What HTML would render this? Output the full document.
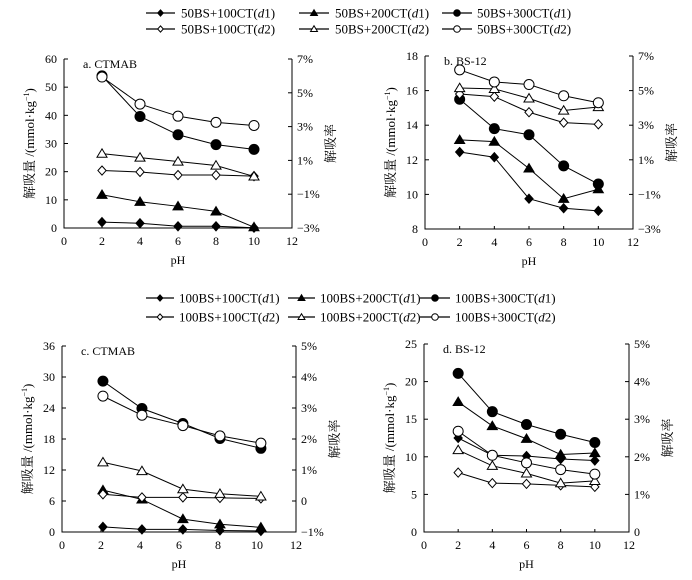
<!DOCTYPE html>
<html><head><meta charset="utf-8">
<style>
body{margin:0;background:#fff;}
svg text{font-family:"Liberation Serif","Noto Serif CJK SC","Noto Sans CJK SC",serif;fill:#000;}
</style></head>
<body>
<svg id="chart" width="692" height="575" viewBox="0 0 692 575" xmlns="http://www.w3.org/2000/svg"></svg>
<script>
// ---- data ----
const seriesKinds = ["fdiamond","ftri","fcircle","odiamond","otri","ocircle"];
const legendTop = ["50BS+100CT(d1)","50BS+200CT(d1)","50BS+300CT(d1)","50BS+100CT(d2)","50BS+200CT(d2)","50BS+300CT(d2)"];
const legendBottom = ["100BS+100CT(d1)","100BS+200CT(d1)","100BS+300CT(d1)","100BS+100CT(d2)","100BS+200CT(d2)","100BS+300CT(d2)"];

const phA = [2,4,6,8,10];
const aFDiamond = [2.1,1.7,0.6,0.6,0.1];
const aFTri = [11.8,9.3,7.7,5.9,0.3];
const aFCircle = [54.0,39.6,33.1,29.6,27.9];
const aODiamond = [20.4,19.9,18.8,18.8,18.4];
const aOTri = [26.4,25.0,23.6,22.2,18.3];
const aOCircle = [53.6,44.0,39.7,37.5,36.4];

const phB = [2,4,6,8,10];
const bFDiamond = [12.45,12.15,9.75,9.2,9.05];
const bFTri = [13.15,13.05,11.5,9.75,10.3];
const bFCircle = [15.5,13.8,13.45,11.65,10.6];
const bODiamond = [15.8,15.65,14.75,14.15,14.05];
const bOTri = [16.15,16.1,15.55,14.85,15.05];
const bOCircle = [17.2,16.5,16.35,15.7,15.3];

const phC = [2.1,4.1,6.2,8.1,10.2];
const cFDiamond = [1.0,0.5,0.5,0.3,0.2];
const cFTri = [8.1,6.3,2.5,1.5,0.9];
const cFCircle = [29.2,23.9,21.0,18.1,16.2];
const cODiamond = [7.3,6.7,6.7,6.6,6.5];
const cOTri = [13.5,11.8,8.3,7.4,6.9];
const cOCircle = [26.3,22.6,20.6,18.6,17.2];

const phD = [2,4,6,8,10];
const dFDiamond = [12.5,10.2,10.1,9.7,9.5];
const dFTri = [17.3,14.1,12.4,10.3,10.5];
const dFCircle = [21.1,16.0,14.3,13.0,11.9];
const dODiamond = [7.9,6.5,6.4,6.2,6.0];
const dOTri = [10.9,8.8,7.8,6.5,6.8];
const dOCircle = [13.4,10.2,9.2,8.3,7.7];

const xTicks = [0,2,4,6,8,10,12];
const aYTicks = [0,10,20,30,40,50,60];
const bYTicks = [8,10,12,14,16,18];
const cYTicks = [0,6,12,18,24,30,36];
const dYTicks = [0,5,10,15,20,25];
const aRTicks = ["−3%","−1%","1%","3%","5%","7%"];
const bRTicks = ["−3%","−1%","1%","3%","5%","7%"];
const cRTicks = ["−1%","0","1%","2%","3%","4%","5%"];
const dRTicks = ["0","1%","2%","3%","4%","5%"];

const NS="http://www.w3.org/2000/svg";
const svg=document.getElementById('chart');
function mk(tag,attrs,parent){const e=document.createElementNS(NS,tag);for(const k in attrs)e.setAttribute(k,attrs[k]);(parent||svg).appendChild(e);return e;}
function txt(s,x,y,size,anchor,parent){const t=mk('text',{x:x,y:y,'font-size':size,'text-anchor':anchor||'start'},parent);t.textContent=s;return t;}

function marker(kind,x,y,s,parent){
  const filled=kind[0]==='f';const f=filled?'#000':'#fff';
  const shape=kind.slice(1);let e;
  if(shape==='circle'){e=mk('circle',{cx:x,cy:y,r:s,fill:f,stroke:'#000','stroke-width':1},parent);}
  else if(shape==='tri'){e=mk('polygon',{points:`${x},${y-s} ${x-s*1.05},${y+s*0.75} ${x+s*1.05},${y+s*0.75}`,fill:f,stroke:'#000','stroke-width':1},parent);}
  else {const d=s*0.95;e=mk('polygon',{points:`${x},${y-d} ${x+d*0.9},${y} ${x},${y+d} ${x-d*0.9},${y}`,fill:f,stroke:'#000','stroke-width':1},parent);}
  return e;
}

function panel(cfg){
  const g=mk('g',{});
  
  
  const sx=v=>cfg.L+(v-0)/12*(cfg.R-cfg.L);
  const sy=v=>cfg.B-(v-cfg.ymin)/(cfg.ymax-cfg.ymin)*(cfg.B-cfg.T);
  const ax=mk('path',{d:`M${cfg.L},${cfg.T}V${cfg.B}H${cfg.R}V${cfg.T}`,fill:'none',stroke:'#000','stroke-width':1},g);
  
  
  cfg.yTicks.forEach(v=>{
    const y=sy(v);
    mk('line',{x1:cfg.L,x2:cfg.L+4,y1:y,y2:y,stroke:'#000'},g);
    const t=txt(String(v),cfg.L-7,y+4,12,'end',g);
    
    
  });
  const n=cfg.rTicks.length;
  cfg.rTicks.forEach((s,i)=>{
    const y=cfg.B-i/(n-1)*(cfg.B-cfg.T);
    mk('line',{x1:cfg.R,x2:cfg.R-4,y1:y,y2:y,stroke:'#000'},g);
    const t=txt(s,cfg.R+5,y+4,12,'start',g);
    
    
  });
  xTicks.forEach(v=>{
    const x=sx(v);
    mk('line',{x1:x,x2:x,y1:cfg.B,y2:cfg.B-3,stroke:'#000'},g);
    const t=txt(String(v),x,cfg.B+17,12,'middle',g);
    
    
  });
  const xt=txt('pH',(cfg.L+cfg.R)/2,cfg.B+36,12,'middle',g);
  
  
  const cy=(cfg.T+cfg.B)/2;
  const lt=mk('text',{x:cfg.L-30,y:cy,'font-size':13,'text-anchor':'middle',transform:`rotate(-90 ${cfg.L-30} ${cy})`},g);
  lt.innerHTML='解吸量 /(mmol·kg<tspan dy="-5" font-size="8">−1</tspan><tspan dy="5">)</tspan>';
  
  
  const rt=mk('text',{x:cfg.R+43,y:cy,'font-size':13,'text-anchor':'middle',transform:`rotate(-90 ${cfg.R+43} ${cy})`},g);
  rt.textContent='解吸率';
  
  
  const tt=txt(cfg.title,cfg.L+19,cfg.T+9,12,'start',g);
  
  
  cfg.series.forEach((vals,si)=>{
    const pts=vals.map((v,i)=>`${sx(cfg.ph[i])},${sy(v)}`).join(' ');
    const pl=mk('polyline',{points:pts,fill:'none',stroke:'#000','stroke-width':1},g);
    
    
    vals.forEach((v,i)=>{
      const m=marker(seriesKinds[si],sx(cfg.ph[i]),sy(v),seriesKinds[si].endsWith('circle')?5:4.8,g);
      
      
    });
  });
}

panel({name:'panel-a',title:'a. CTMAB',L:64,R:292,T:59,B:228,ymin:0,ymax:60,yTicks:aYTicks,rTicks:aRTicks,ph:phA,series:[aFDiamond,aFTri,aFCircle,aODiamond,aOTri,aOCircle]});
panel({name:'panel-b',title:'b. BS-12',L:425,R:633,T:56,B:229,ymin:8,ymax:18,yTicks:bYTicks,rTicks:bRTicks,ph:phB,series:[bFDiamond,bFTri,bFCircle,bODiamond,bOTri,bOCircle]});
panel({name:'panel-c',title:'c. CTMAB',L:62,R:296,T:346,B:532,ymin:0,ymax:36,yTicks:cYTicks,rTicks:cRTicks,ph:phC,series:[cFDiamond,cFTri,cFCircle,cODiamond,cOTri,cOCircle]});
panel({name:'panel-d',title:'d. BS-12',L:424,R:629,T:344,B:532,ymin:0,ymax:25,yTicks:dYTicks,rTicks:dRTicks,ph:phD,series:[dFDiamond,dFTri,dFCircle,dODiamond,dOTri,dOCircle]});

function legend(labels,rows,cols,name){
  const g=mk('g',{});
  
  
  labels.forEach((s,i)=>{
    const r=Math.floor(i/3),c=i%3;
    const y=rows[r],col=cols[c];
    const e=mk('g',{},g);
    
    
    mk('line',{x1:col[0],x2:col[1],y1:y,y2:y,stroke:'#000','stroke-width':1.3},e);
    marker(seriesKinds[i],(col[0]+col[1])/2,y,3.3,e);
    const t=mk('text',{x:col[2],y:y+4.5,'font-size':13},e);
    const m=s.match(/^(.*)\(d(\d)\)$/);
    t.innerHTML=m[1]+'(<tspan font-style="italic">d</tspan>'+m[2]+')';
  });
}
legend(legendTop,[13,29],[[146,175,181],[299,329,335],[442,472,477]],'legend-top');
legend(legendBottom,[298,317],[[146,174,179],[288,315,320],[420,450,455]],'legend-bottom');
</script>
</body></html>
